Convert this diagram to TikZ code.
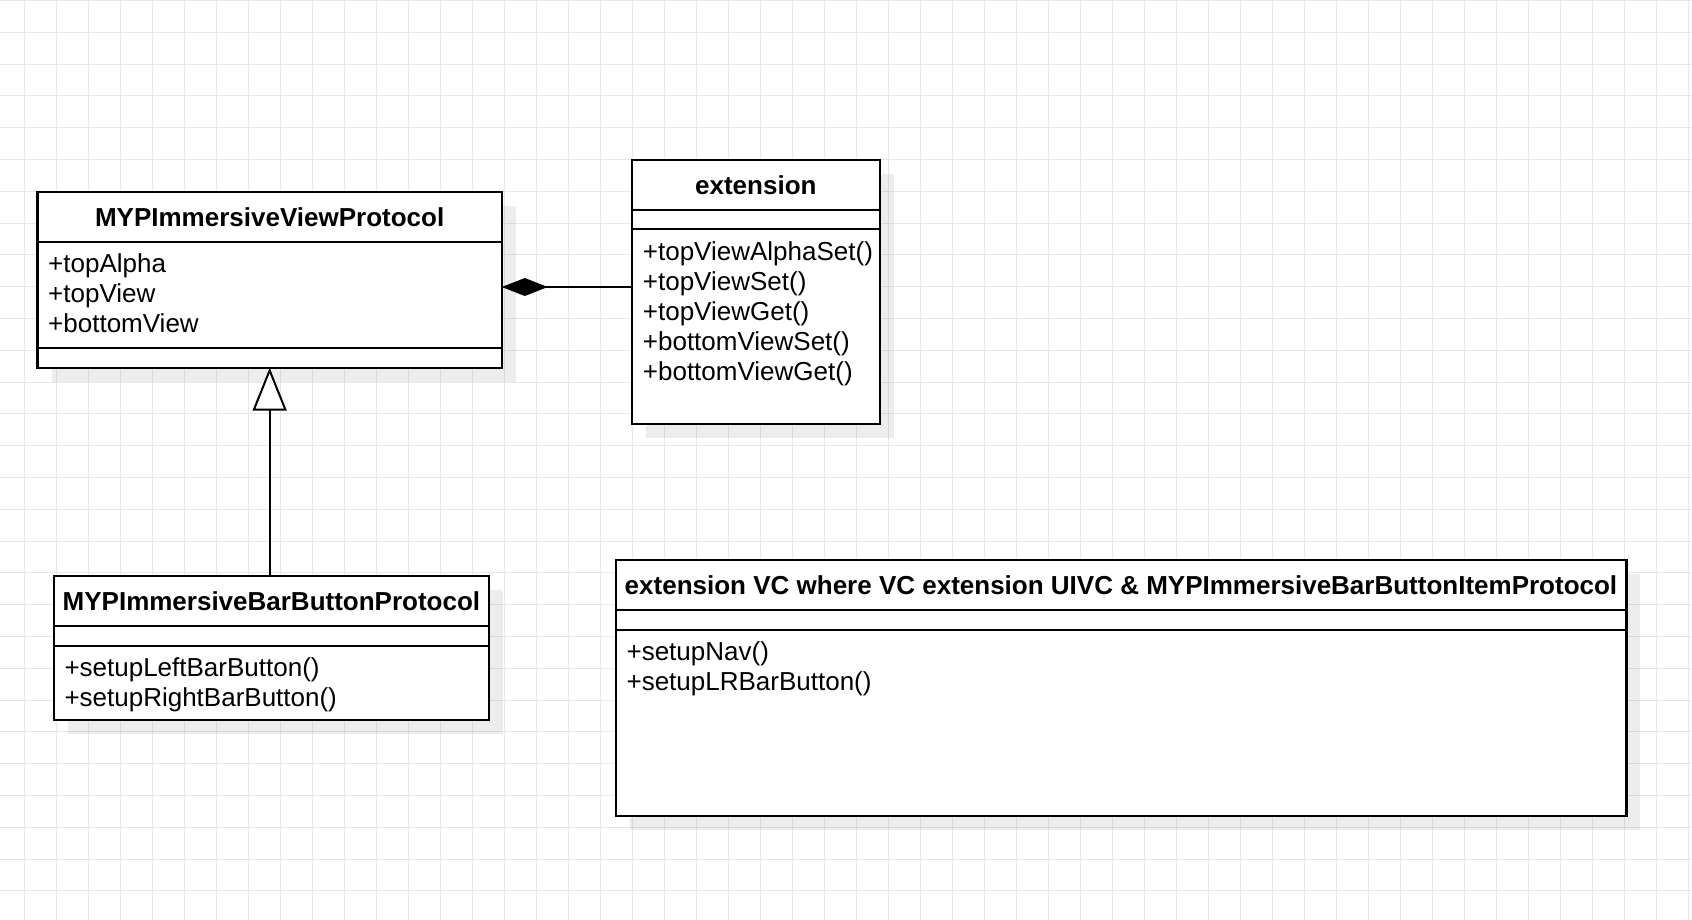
\documentclass[tikz,border=0pt]{standalone}
\usepackage{fontspec}
\setmainfont{Liberation Sans}
\usetikzlibrary{arrows.meta,shadows}

\begin{document}
\begin{tikzpicture}[x=1pt,y=-1pt,
	gridline/.style={draw=gray!18,line width=1pt},
	umlbox/.style={draw,line width=2.2pt,fill=white,anchor=north west,inner sep=0pt,outer sep=0pt,
		drop shadow={shadow xshift=14pt,shadow yshift=-14pt,fill=black,opacity=.07}},
	sepline/.style={line width=2.2pt},
	classtitle/.style={font=\bfseries\fontsize{26}{30}\selectfont,anchor=base,inner sep=0pt},
	member/.style={font=\fontsize{26}{30}\selectfont,anchor=base west,inner sep=0pt},
	composition/.style={line width=2pt,-{Diamond[length=46pt,width=18pt]}},
	inherit/.style={line width=2pt,-{Triangle[open,length=43pt,width=34pt,fill=white]}}]
			\fill[white] (0,0) rectangle (1692,920);
			\useasboundingbox (0,0) rectangle (1692,920);
			\foreach \gx in {24.3,56.3,...,1692} \draw[gridline] (\gx,0) -- (\gx,920);
			\foreach \gy in {0.5,32.3,...,920} \draw[gridline] (0,\gy) -- (1692,\gy);
			\node[umlbox,minimum width=464.3pt,minimum height=176pt] (viewproto) at (37.5,191.7) {};
			\draw[sepline] (viewproto.west |- 0,241.7) -- (viewproto.east |- 0,241.7);
			\draw[sepline] (viewproto.west |- 0,347.7) -- (viewproto.east |- 0,347.7);
			\node[classtitle] (viewtitle) at (viewproto.north |- 0,226.5) {MYPImmersiveViewProtocol};
			\foreach \m [count=\i] in {+topAlpha,+topView,+bottomView}
				\node[member] (viewattr\i) at (48,242.5+30*\i) {\m};
			\node[umlbox,minimum width=248.3pt,minimum height=264pt] (ext) at (631.7,160) {};
			\draw[sepline] (ext.west |- 0,210) -- (ext.east |- 0,210);
			\draw[sepline] (ext.west |- 0,229.3) -- (ext.east |- 0,229.3);
			\node[classtitle] (exttitle) at (ext.north |- 0,194.5) {extension};
			\foreach \m [count=\i] in {+topViewAlphaSet(),+topViewSet(),+topViewGet(),+bottomViewSet(),+bottomViewGet()}
				\node[member] (extop\i) at (642.7,230+30*\i) {\m};
			\node[umlbox,minimum width=435.7pt,minimum height=144pt] (barproto) at (53.6,576) {};
			\draw[sepline] (barproto.west |- 0,626) -- (barproto.east |- 0,626);
			\draw[sepline] (barproto.west |- 0,646) -- (barproto.east |- 0,646);
			\node[classtitle] (bartitle) at (barproto.north |- 0,610.5) {MYPImmersiveBarButtonProtocol};
			\foreach \m [count=\i] in {+setupLeftBarButton(),+setupRightBarButton()}
				\node[member] (barop\i) at (64.3,646.7+30*\i) {\m};
			\node[umlbox,minimum width=1010.8pt,minimum height=255.8pt] (vcext) at (615.6,560) {};
			\draw[sepline] (vcext.west |- 0,610) -- (vcext.east |- 0,610);
			\draw[sepline] (vcext.west |- 0,630) -- (vcext.east |- 0,630);
			\node[classtitle] (vctitle) at (vcext.north |- 0,594.5) {extension VC where VC extension UIVC \& MYPImmersiveBarButtonItemProtocol};
			\foreach \m [count=\i] in {+setupNav(),+setupLRBarButton()}
				\node[member] (vcop\i) at (626.4,630+30*\i) {\m};
			\coordinate (compstart) at (ext.west |- 0,287);
			\draw[composition] (compstart) -- (compstart -| viewproto.east);
			\draw[inherit] (barproto.north -| viewproto.south) -- (viewproto.south);
		\end{tikzpicture}
\end{document}
